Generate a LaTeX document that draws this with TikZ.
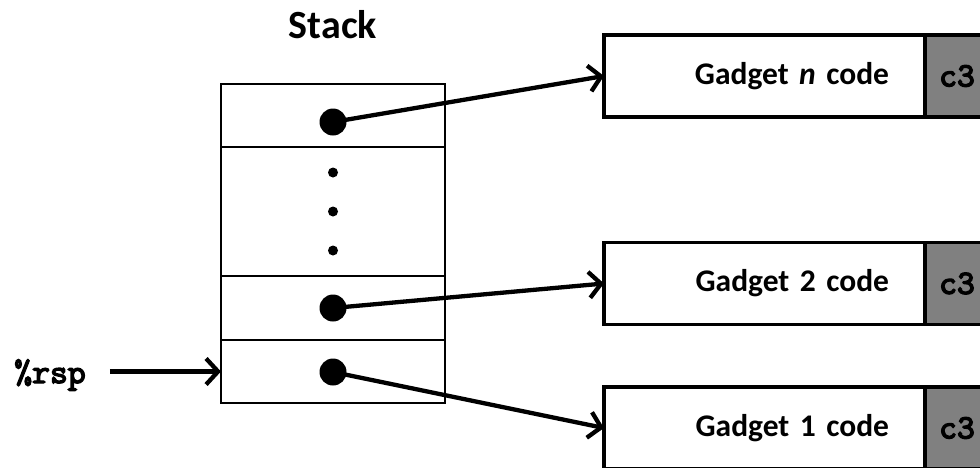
\documentclass[tikz,border=0pt]{standalone}
\usepackage{fontspec}
\setmainfont{Carlito}
\newfontfamily\codefont{lmmono10-regular.otf}[AutoFakeBold=4]
\usetikzlibrary{arrows.meta,positioning,calc}

\begin{document}
\begin{tikzpicture}[
            x=1pt, y=-1pt,                % pixel grid
            cell/.style={draw, line width=2.7pt, minimum width=224pt,
                inner sep=0pt, outer sep=0pt},
            gadget/.style={draw, line width=3.2pt, minimum height=82pt,
                text width=249pt, inner xsep=36pt, inner ysep=0pt, align=right,
                outer sep=0pt, font=\fontsize{31.5}{36}\selectfont\bfseries},
            ret/.style={draw, line width=3.2pt, fill=black!50, minimum height=82pt,
                minimum width=64pt, inner sep=0pt, outer sep=0pt,
                font=\fontsize{34}{36}\selectfont\codefont\bfseries},
            bigdot/.style={circle, fill=black, minimum size=27pt, inner sep=0pt},
            smalldot/.style={circle, fill=black, minimum size=10pt, inner sep=0pt},
            ptr/.style={-{Straight Barb[length=12pt, width=26pt]}, line width=4.3pt}
        ]
            \useasboundingbox (0,0) rectangle (980,467);

            % stack
            \node[font=\fontsize{40}{44}\selectfont\bfseries] (stacklabel) at (333,25) {Stack};
            \node[cell, minimum height=63pt] (cellN) at (333,115.5) {};
            \node[cell, minimum height=129pt, below=0pt of cellN] (cellDots) {};
            \node[cell, minimum height=64pt, below=0pt of cellDots] (cell2) {};
            \node[cell, minimum height=63pt, below=0pt of cell2] (cell1) {};

            \node[smalldot] (dotA) at ($(cellDots)+(0,-39)$) {};
            \node[smalldot] (dotB) at (cellDots) {};
            \node[smalldot] (dotC) at ($(cellDots)+(0,39)$) {};

            % gadgets
            \node[gadget] (gadgetN) at (764.5,76) {Gadget \textit{n} code};
            \node[gadget] (gadget2) at (764.5,283.5) {Gadget 2 code};
            \node[gadget] (gadget1) at (764.5,428) {Gadget 1 code};
            \node[ret, right=0pt of gadgetN] (retN) {c3};
            \node[ret, right=0pt of gadget2] (ret2) {c3};
            \node[ret, right=0pt of gadget1] (ret1) {c3};

            % pointers
            \node[bigdot] (ptrN) at ($(cellN)+(0,6.5)$) {};
            \node[bigdot] (ptr2) at (cell2) {};
            \node[bigdot] (ptr1) at ($(cell1)+(0,0.5)$) {};
            \draw[ptr] (ptrN.center) -- (gadgetN.west);
            \draw[ptr] (ptr2.center) -- (gadget2.west);
            \draw[ptr] (ptr1.center) -- (gadget1.west);

            % stack pointer
            \node[font=\fontsize{34}{36}\selectfont\codefont\bfseries, inner sep=0pt] (rsp) at (50,375) {\%rsp};
            \draw[ptr, shorten <=24pt] (rsp.east |- cell1.west) -- (cell1.west);
        \end{tikzpicture}
\end{document}
